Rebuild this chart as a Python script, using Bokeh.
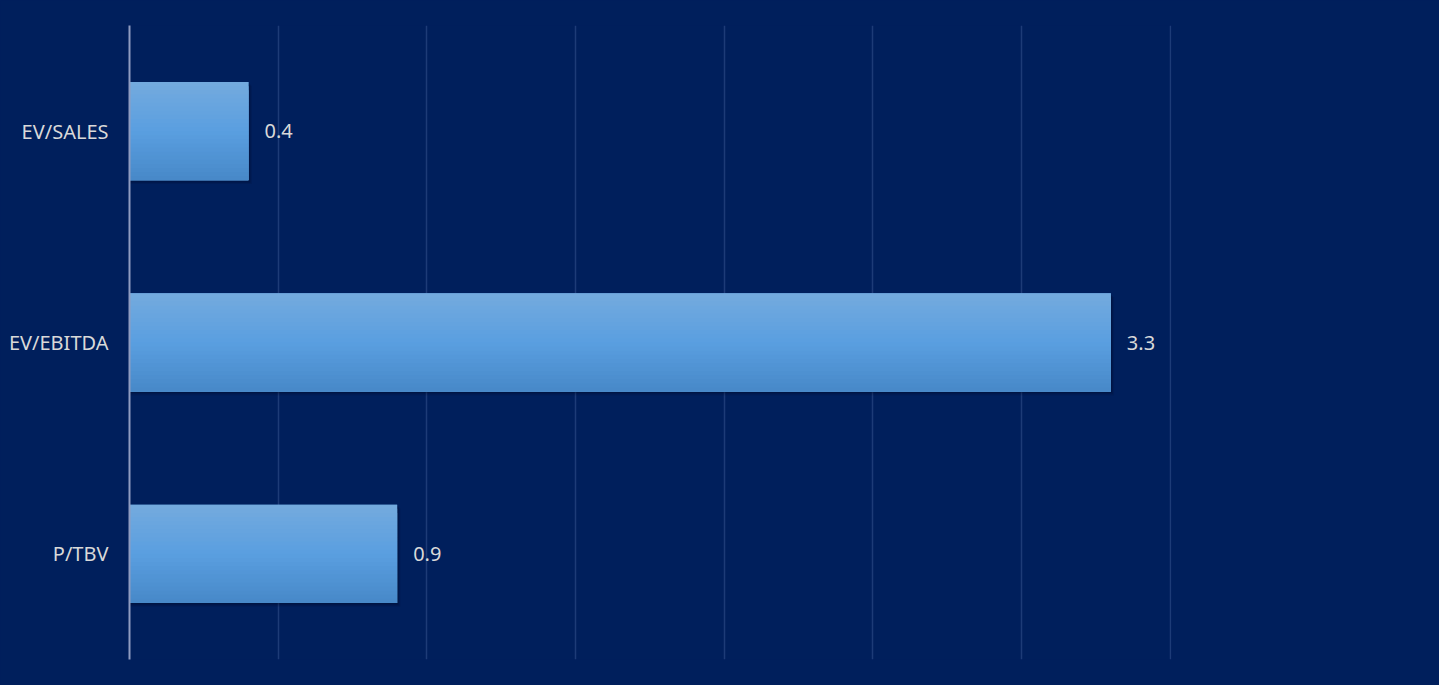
from bokeh.plotting import figure
from bokeh.models import FactorRange, Range1d, ColumnDataSource, LabelSet
from bokeh.transform import dodge
from bokeh.core.properties import value
from bokeh.embed import file_html
from bokeh.resources import INLINE

categories = ["EV/SALES", "EV/EBITDA", "P/TBV"]
values = [0.4, 3.3, 0.9]
labels = ["0.4", "3.3", "0.9"]

BG = "#001f5c"
TEXT = "#d9d9d9"
FONT = "Noto Sans"

source = ColumnDataSource(dict(cat=categories, val=values, lab=labels))

p = figure(width=1439, height=685,
           y_range=FactorRange(factors=categories[::-1]),
           x_range=Range1d(0, 3.504),
           output_backend="svg", toolbar_location=None,
           min_border_left=129, min_border_top=25, min_border_bottom=26, min_border_right=268,
           background_fill_color=BG, border_fill_color=BG,
           outline_line_color=None)
p.styles = {"background-color": BG}

p.xaxis.visible = False
p.ygrid.grid_line_color = None
p.xgrid.grid_line_color = "#1d3b77"
p.xgrid.grid_line_width = 1.5
p.xaxis.ticker = [0, 0.5, 1, 1.5, 2, 2.5, 3, 3.5]

p.yaxis.axis_line_color = "#8f9cc0"
p.yaxis.axis_line_width = 2
p.yaxis.major_tick_line_color = None
p.yaxis.minor_tick_line_color = None
p.yaxis.major_label_standoff = 15
p.yaxis.major_label_text_font = FONT
p.yaxis.major_label_text_font_size = "20px"
p.yaxis.major_label_text_color = TEXT

BAR_H = 0.465

# soft shadow
for k, a in [(0.018, 0.10), (0.012, 0.15), (0.006, 0.2)]:
    p.hbar(y=dodge("cat", -k, range=p.y_range), left=0, right=dodge("val", k * 0.6),
           height=BAR_H, fill_color="#000820", fill_alpha=a, line_color=None, source=source)

def lerp(c1, c2, t):
    a = [int(c1[i:i + 2], 16) for i in (1, 3, 5)]
    b = [int(c2[i:i + 2], 16) for i in (1, 3, 5)]
    return "#%02x%02x%02x" % tuple(round(a[j] + (b[j] - a[j]) * t) for j in range(3))

TOP, MID, BOT = "#74aade", "#5a9fe0", "#4788c8"

# base bar
p.hbar(y="cat", left=0, right="val", height=BAR_H, fill_color=MID, line_color=None, source=source)

N = 24
h = BAR_H / N
for i in range(N):
    t = (i + 0.5) / N
    c = lerp(TOP, MID, t / 0.5) if t < 0.5 else lerp(MID, BOT, (t - 0.5) / 0.5)
    top_edge = BAR_H / 2 - i * h
    hh = (BAR_H / 2 + top_edge) if i == 0 else min(2 * h, BAR_H / 2 + top_edge)
    off = top_edge - hh / 2
    p.hbar(y=dodge("cat", off, range=p.y_range), left=0, right="val",
           height=hh, fill_color=c, line_color=None, source=source)

lbl = LabelSet(x="val", y="cat", text="lab", source=source, x_offset=16, y_offset=0,
               text_baseline="middle", text_align="left", text_color=TEXT,
               text_font=value(FONT), text_font_size="20px")
p.add_layout(lbl)

open("out.html", "w").write(file_html(p, INLINE))
